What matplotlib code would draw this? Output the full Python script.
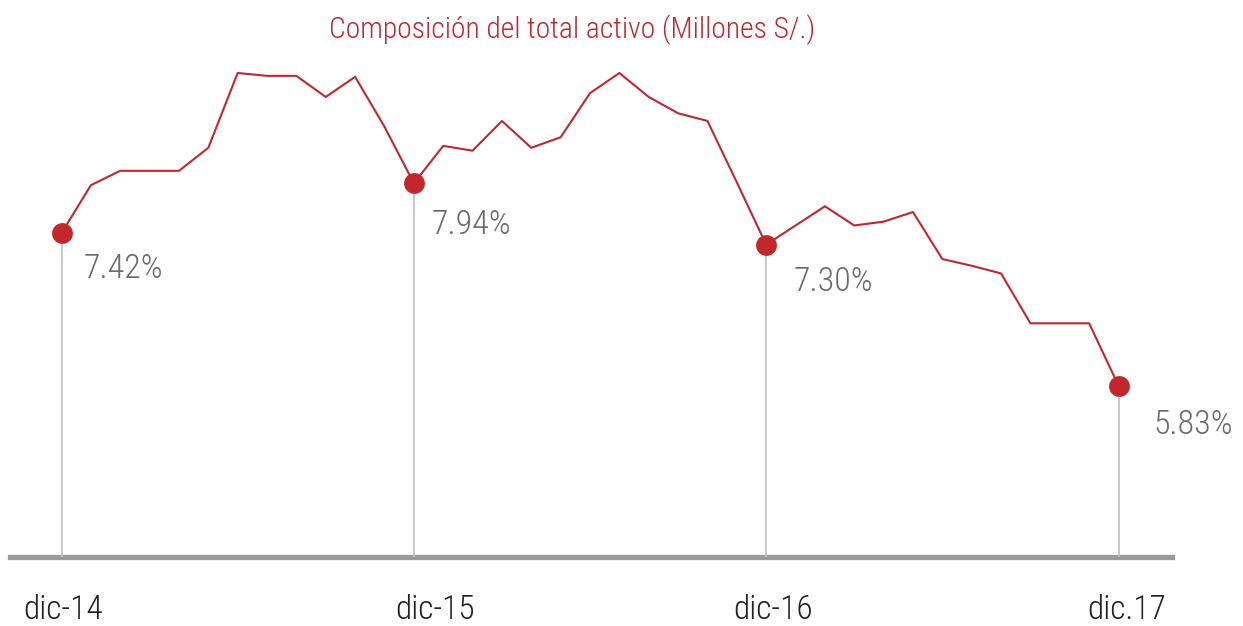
import matplotlib
matplotlib.use("Agg")
import matplotlib.pyplot as plt
from matplotlib import font_manager

# monthly ratio, dic-14 .. dic-17 (%)
ratio = [7.42, 7.92, 8.07, 8.07, 8.07, 8.31, 9.09, 9.06, 9.06, 8.84, 9.05, 8.53,
         7.94, 8.33, 8.28, 8.59, 8.31, 8.42, 8.88, 9.09, 8.84, 8.67, 8.59, 7.95,
         7.30, 7.50, 7.70, 7.50, 7.54, 7.64, 7.15, 7.08, 7.00, 6.48, 6.48, 6.48,
         5.83]
months = list(range(len(ratio)))
key_months = [0, 12, 24, 36]
key_labels = ["7.42%", "7.94%", "7.30%", "5.83%"]
tick_labels = ["dic-14", "dic-15", "dic-16", "dic.17"]
title = "Composición del total activo (Millones S/.)"

names = {f.name for f in font_manager.fontManager.ttflist}
fam = "Roboto"
for cand in ["Roboto Condensed", "Liberation Sans Narrow", "Open Sans Condensed", "Roboto"]:
    if cand in names:
        fam = cand
        break
plt.rcParams["font.family"] = [fam, "DejaVu Sans"]
narrow = fam != "Roboto"

red = "#c1272d"
base = 4.04

fig = plt.figure(figsize=(12.43, 6.26), dpi=100)
ax = fig.add_axes([0, 0, 1, 1])
ax.set_xlim(-2.095, 40.24)
ax.set_ylim(3.324, 9.851)
ax.axis("off")

# baseline
ax.axhline(base, xmin=0.008, xmax=0.943, color="#9a9a9a", lw=3.8, zorder=1)

# drop lines from key points
ax.vlines(key_months, base, [ratio[m] for m in key_months],
          color="#c4c4c4", lw=1.3, zorder=2)

ax.plot(months, ratio, color=red, lw=1.5, zorder=3)
ax.plot(key_months, [ratio[m] for m in key_months], "o", color=red,
        ms=15, mec="none", zorder=4)

lab_size = 24.5 if narrow else 21
lab_dx = [16, 13, 20, 25]
lab_dy = [-26, -30, -27, -28]
for m, lab, dx, dy in zip(key_months, key_labels, lab_dx, lab_dy):
    ax.annotate(lab, (m, ratio[m]), xytext=(dx, dy), textcoords="offset points",
                ha="left", va="center", fontsize=lab_size, color="#6b6b6b",
                fontweight="light")

tick_size = 24 if narrow else 19
tick_dx = [1, 15, 5, 6]
for m, lab, dx in zip(key_months, tick_labels, tick_dx):
    ax.annotate(lab, (m, 3.51), xytext=(dx, -1), textcoords="offset points",
                ha="center", va="center", fontsize=tick_size,
                color="#222222", fontweight="light")

fig.text(572 / 1243, 1 - 30 / 626, title, ha="center", va="center",
         fontsize=21.3 if narrow else 17.5, color=red, fontweight="light")

fig.savefig("out.png", dpi=100)
